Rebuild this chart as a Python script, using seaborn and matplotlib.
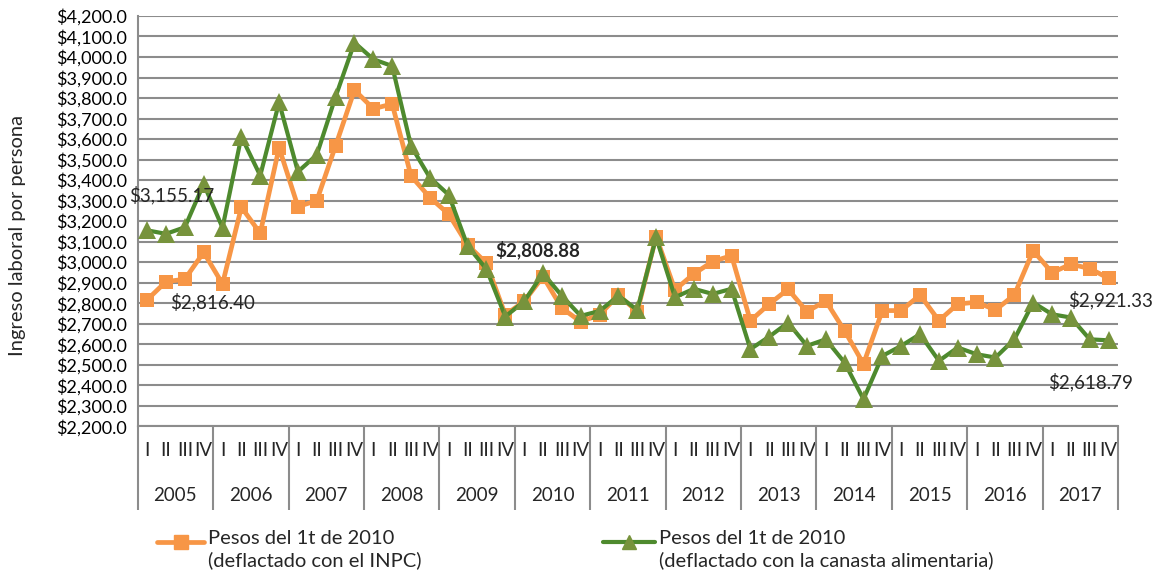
import numpy as np
import pandas as pd
import matplotlib.pyplot as plt
import seaborn as sns
from matplotlib.lines import Line2D
from matplotlib.ticker import FuncFormatter

# datos trimestrales 2005 I - 2017 IV
years = [str(y) for y in range(2005, 2018)]
quarters = ["I", "II", "III", "IV"]

inpc = [2816.40, 2905, 2917, 3048, 2894, 3268, 3141, 3558, 3271, 3300, 3568, 3839,
        3748, 3771, 3420, 3315, 3234, 3084, 2995, 2743, 2808.88, 2930, 2776, 2710,
        2743, 2840, 2759, 3125, 2865, 2943, 3003, 3032, 2714, 2796, 2868, 2759,
        2811, 2665, 2504, 2764, 2764, 2840, 2715, 2796, 2805, 2767, 2840, 3056,
        2949, 2990, 2969, 2921.33]
canasta = [3155.17, 3138, 3170, 3381, 3168, 3612, 3422, 3779, 3441, 3523, 3807, 4070,
           3989, 3956, 3566, 3412, 3328, 3079, 2966, 2735, 2808.88, 2945, 2836, 2738,
           2762, 2836, 2767, 3121, 2829, 2870, 2845, 2870, 2576, 2637, 2705, 2592,
           2624, 2510, 2332, 2543, 2592, 2649, 2519, 2584, 2551, 2535, 2624, 2803,
           2746, 2730, 2624, 2618.79]

label_inpc = "Pesos del 1t de 2010\n(deflactado con el INPC)"
label_canasta = "Pesos del 1t de 2010\n(deflactado con la canasta alimentaria)"

ORANGE = "#F79646"
GREEN_LINE = "#4E8A2E"
GREEN_MK = "#77933C"
GRID = "#8C8C8C"

sns.set_style("white")
plt.rcParams["font.family"] = ["Lato", "DejaVu Sans"]

n = len(inpc)
pos = np.arange(n)
df_inpc = pd.DataFrame({"pos": pos, "valor": inpc})
df_can = pd.DataFrame({"pos": pos, "valor": canasta})

fig = plt.figure(figsize=(11.57, 5.81), dpi=100)
ax = fig.add_axes([0.119, 0.2663, 0.8473, 0.7062])

sns.lineplot(data=df_inpc, x="pos", y="valor", ax=ax, color=ORANGE, linewidth=3.4,
             marker="s", markersize=9.5, markerfacecolor=ORANGE, markeredgecolor=ORANGE,
             markeredgewidth=0, zorder=3)
sns.lineplot(data=df_can, x="pos", y="valor", ax=ax, color=GREEN_LINE, linewidth=3.0,
             marker="^", markersize=13, markerfacecolor=GREEN_MK, markeredgecolor=GREEN_MK,
             markeredgewidth=0, zorder=4)

ax.set_xlim(-0.5, n - 0.5)
ax.set_ylim(2200, 4200)
ax.set_yticks(np.arange(2200, 4201, 100))
ax.yaxis.set_major_formatter(FuncFormatter(lambda v, p: f"${v:,.1f}"))
ax.grid(axis="y", color=GRID, linewidth=1.5)
ax.set_axisbelow(True)
for s in ["top", "right"]:
    ax.spines[s].set_visible(False)
for s in ["left", "bottom"]:
    ax.spines[s].set_color(GRID)
    ax.spines[s].set_linewidth(1.5)
ax.tick_params(axis="y", direction="out", length=4.5, width=1.5, color=GRID,
               labelsize=13, pad=3, labelcolor="black")

# eje de categorías en dos niveles
ax.set_xticks(pos)
ax.set_xticklabels(quarters * len(years), fontsize=13.5)
ax.tick_params(axis="x", which="major", length=0, pad=11)
ax.set_xticks(np.arange(-0.5, n, 1), minor=True)
ax.tick_params(axis="x", which="minor", direction="out", length=29.5, width=1.5, color=GRID)
trans = ax.get_xaxis_transform()
ax.vlines(np.arange(-0.5, n, 4), 0, -0.203, transform=trans, color=GRID,
          linewidth=1.5, clip_on=False)
for i, y in enumerate(years):
    ax.text(4 * i + 1.5, -0.168, y, transform=trans, ha="center", va="center",
            fontsize=13.5)

ax.set_xlabel("")
ax.set_ylabel("")
fig.text(18 / 1157, 1 - 235 / 581, "Ingreso laboral por persona", rotation=90,
         ha="center", va="center", fontsize=14.5)

# etiquetas de datos
ann = dict(textcoords="offset pixels", ha="center", va="center", fontsize=13.5, zorder=6)
ax.annotate(f"${canasta[0]:,.2f}", (0, canasta[0]), xytext=(25, 35), **ann)
ax.annotate(f"${inpc[0]:,.2f}", (0, inpc[0]), xytext=(65, -2), **ann)
ax.annotate(f"${inpc[20]:,.2f}", (20, inpc[20]), xytext=(14, 51), fontweight="bold", **ann)
ax.annotate(f"${inpc[-1]:,.2f}", (n - 1, inpc[-1]), xytext=(2, -22), **ann)
ax.annotate(f"${canasta[-1]:,.2f}", (n - 1, canasta[-1]), xytext=(-18, -42), **ann)


# leyenda manual
def legend_entry(x0, x1, ylin, color, mc, marker, ms, lw, text):
    xs = [x0 / 1157, (x0 + x1) / 2 / 1157, x1 / 1157]
    yv = 1 - ylin / 581
    fig.add_artist(Line2D(xs, [yv] * 3, color=color, linewidth=lw, marker=marker,
                          markersize=ms, markevery=[1], markerfacecolor=mc,
                          markeredgecolor=mc, solid_capstyle="round"))
    fig.text((x1 + 4) / 1157, yv + 12 / 581, text, ha="left", va="top", fontsize=14.5,
             linespacing=1.3)


legend_entry(157, 204, 542, ORANGE, ORANGE, "s", 9.5, 3.4, label_inpc)
legend_entry(603, 655, 542, GREEN_LINE, GREEN_MK, "^", 10, 3.0, label_canasta)

fig.savefig("out.png", dpi=100)
